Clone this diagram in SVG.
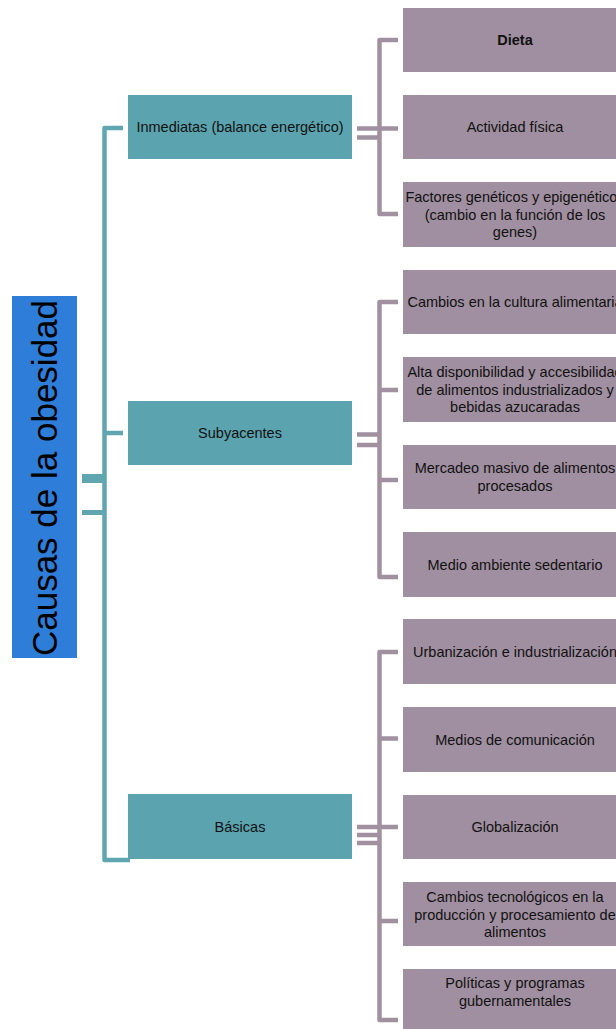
<svg xmlns="http://www.w3.org/2000/svg" width="616" height="1029" viewBox="0 0 616 1029">
<style>
.root{fill:#2E7DD8}
.mid{fill:#5BA3AE}
.leaf{fill:#A08FA0}
.t{font-family:"Liberation Sans",Arial,sans-serif;font-size:14.5px;fill:#111;text-anchor:middle}
.rt{font-family:"Liberation Sans",Arial,sans-serif;font-size:35px;fill:#000;text-anchor:middle}
.tl{fill:none;stroke:#5FA6B0;stroke-width:4.5;stroke-linejoin:round}
.pl{fill:none;stroke:#A090A0;stroke-width:4.5;stroke-linejoin:round}
</style>
<rect width="616" height="1029" fill="#fff"/>
<g id="connectors">
  <path class="tl" d="M123 128 H104.5 V860 H130"/>
  <path class="tl" d="M104.5 433 H123"/>
  <rect x="82" y="474" width="23" height="9" fill="#5FA6B0"/>
  <rect x="82" y="510" width="23" height="5" fill="#5FA6B0"/>
  <path class="pl" d="M398 40 H379.5 V214 H398"/>
  <path class="pl" d="M357 128.5 H398"/>
  <path class="pl" d="M357 137.5 H379"/>
  <path class="pl" d="M398 302 H379.5 V577 H398"/>
  <path class="pl" d="M379.5 390 H398 M379.5 480 H398"/>
  <path class="pl" d="M357 434.5 H379 M357 445 H379"/>
  <path class="pl" d="M398 652 H379.5 V1020 H398"/>
  <path class="pl" d="M379.5 738.5 H398 M357 827 H398 M379.5 921 H398"/>
  <path class="pl" d="M357 835 H379 M357 843 H379"/>
</g>
<g id="root">
  <rect class="root" x="12" y="296" width="65" height="362"/>
  <text class="rt" transform="translate(57 478) rotate(-90)">Causas de la obesidad</text>
</g>
<g id="inmediatas">
  <rect class="mid" x="128" y="95" width="224" height="64"/>
  <text class="t" x="240" y="132">Inmediatas (balance energético)</text>
</g>
<g id="subyacentes">
  <rect class="mid" x="128" y="401" width="224" height="64"/>
  <text class="t" x="240" y="438">Subyacentes</text>
</g>
<g id="basicas">
  <rect class="mid" x="128" y="794" width="224" height="65"/>
  <text class="t" x="240" y="831.5">Básicas</text>
</g>
<g id="dieta">
  <rect class="leaf" x="403" y="8" width="224" height="64"/>
  <text class="t" x="515" y="45" font-weight="bold">Dieta</text>
</g>
<g id="actividad">
  <rect class="leaf" x="403" y="95" width="224" height="64"/>
  <text class="t" x="515" y="132">Actividad física</text>
</g>
<g id="factores">
  <rect class="leaf" x="403" y="182" width="224" height="65"/>
  <text class="t" x="515" y="202">Factores genéticos y epigenéticos</text>
  <text class="t" x="515" y="219.5">(cambio en la función de los</text>
  <text class="t" x="515" y="237">genes)</text>
</g>
<g id="cultura">
  <rect class="leaf" x="403" y="270" width="224" height="64"/>
  <text class="t" x="515" y="307">Cambios en la cultura alimentaria</text>
</g>
<g id="disponibilidad">
  <rect class="leaf" x="403" y="357" width="224" height="65"/>
  <text class="t" x="515" y="377">Alta disponibilidad y accesibilidad</text>
  <text class="t" x="515" y="394.5">de alimentos industrializados y</text>
  <text class="t" x="515" y="412">bebidas azucaradas</text>
</g>
<g id="mercadeo">
  <rect class="leaf" x="403" y="445" width="224" height="64"/>
  <text class="t" x="515" y="473">Mercadeo masivo de alimentos</text>
  <text class="t" x="515" y="490.5">procesados</text>
</g>
<g id="medio">
  <rect class="leaf" x="403" y="532" width="224" height="65"/>
  <text class="t" x="515" y="569.5">Medio ambiente sedentario</text>
</g>
<g id="urbanizacion">
  <rect class="leaf" x="403" y="619" width="224" height="65"/>
  <text class="t" x="515" y="656.5">Urbanización e industrialización</text>
</g>
<g id="medios">
  <rect class="leaf" x="403" y="707" width="224" height="65"/>
  <text class="t" x="515" y="744.5">Medios de comunicación</text>
</g>
<g id="globalizacion">
  <rect class="leaf" x="403" y="795" width="224" height="64"/>
  <text class="t" x="515" y="832">Globalización</text>
</g>
<g id="tecnologicos">
  <rect class="leaf" x="403" y="882" width="224" height="64"/>
  <text class="t" x="515" y="902">Cambios tecnológicos en la</text>
  <text class="t" x="515" y="919.5">producción y procesamiento de</text>
  <text class="t" x="515" y="937">alimentos</text>
</g>
<g id="politicas">
  <rect class="leaf" x="403" y="969" width="224" height="65"/>
  <text class="t" x="515" y="988">Políticas y programas</text>
  <text class="t" x="515" y="1005.5">gubernamentales</text>
</g>
</svg>
